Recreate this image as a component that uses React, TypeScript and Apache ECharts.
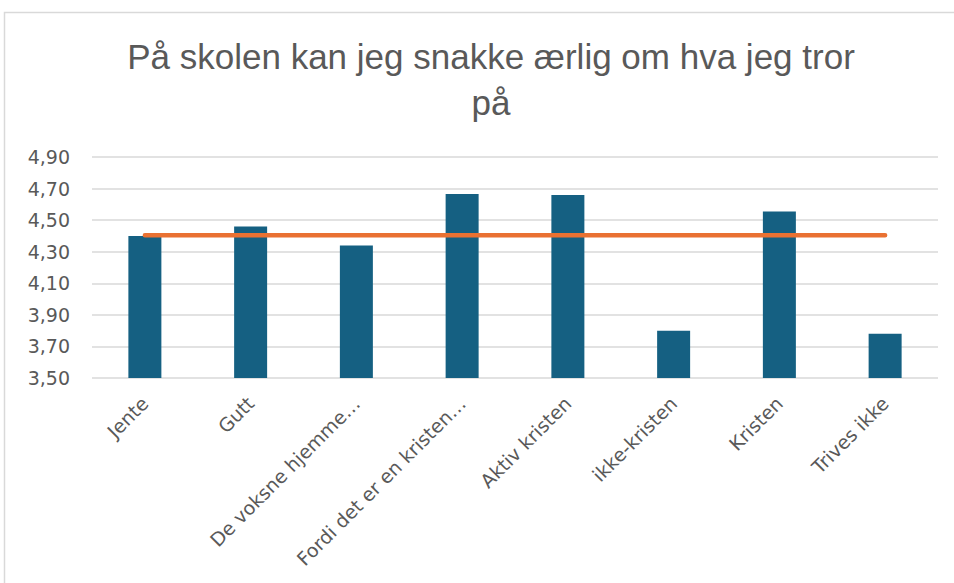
import React, { useEffect, useRef } from "react";
import * as echarts from "echarts";

const categories = [
  "Jente",
  "Gutt",
  "De voksne hjemme…",
  "Fordi det er en kristen…",
  "Aktiv kristen",
  "ikke-kristen",
  "Kristen",
  "Trives ikke",
];
const barValues = [4.4, 4.46, 4.34, 4.665, 4.66, 3.8, 4.555, 3.78];
const averageValues = [4.405, 4.405, 4.405, 4.405, 4.405, 4.405, 4.405, 4.405];
const titleText = "På skolen kan jeg snakke ærlig om hva jeg tror\npå";

export default function App() {
  const ref = useRef<HTMLDivElement>(null);
  useEffect(() => {
    document.body.style.margin = "0";
    const chart = echarts.init(ref.current!, undefined, { renderer: "svg" });
    const titleFont = "'Liberation Sans', sans-serif";
    const labelFont = "'DejaVu Sans', sans-serif";
    chart.setOption({
      animation: false,
      backgroundColor: "#ffffff",
      title: {
        text: titleText,
        left: 486,
        textAlign: "center",
        top: 28,
        textStyle: {
          fontFamily: titleFont,
          fontSize: 35,
          fontWeight: "normal",
          color: "#595959",
          lineHeight: 46,
        },
      },
      graphic: [
        {
          type: "rect",
          shape: { x: 4.5, y: 12.5, width: 1000, height: 700 },
          style: { fill: "none", stroke: "#d9d9d9", lineWidth: 1.5 },
          silent: true,
        },
      ],
      grid: { left: 92, right: 16, top: 157, bottom: 205, containLabel: false },
      xAxis: {
        type: "category",
        data: categories,
        axisLine: { show: false },
        axisTick: { show: false },
        axisLabel: {
          rotate: 45,
          interval: 0,
          margin: 22,
          color: "#595959",
          fontSize: 19,
          fontFamily: labelFont,
        },
      },
      yAxis: {
        type: "value",
        min: 3.5,
        max: 4.9,
        interval: 0.2,
        axisLine: { show: false },
        axisTick: { show: false },
        axisLabel: {
          color: "#595959",
          fontSize: 19,
          margin: 22,
          fontFamily: labelFont,
          formatter: (v: number) => v.toFixed(2).replace(".", ","),
        },
        splitLine: { lineStyle: { color: "#d9d9d9", width: 1.5 } },
      },
      series: [
        {
          type: "bar",
          data: barValues,
          barWidth: 33,
          itemStyle: { color: "#156082" },
        },
        {
          type: "line",
          data: averageValues,
          symbol: "none",
          lineStyle: { color: "#E97132", width: 4.5, cap: "round" },
          z: 3,
        },
      ],
    });
    return () => chart.dispose();
  }, []);
  return (
    <div
      ref={ref}
      style={{ position: "fixed", left: 0, top: 0, width: 954, height: 583 }}
    />
  );
}
